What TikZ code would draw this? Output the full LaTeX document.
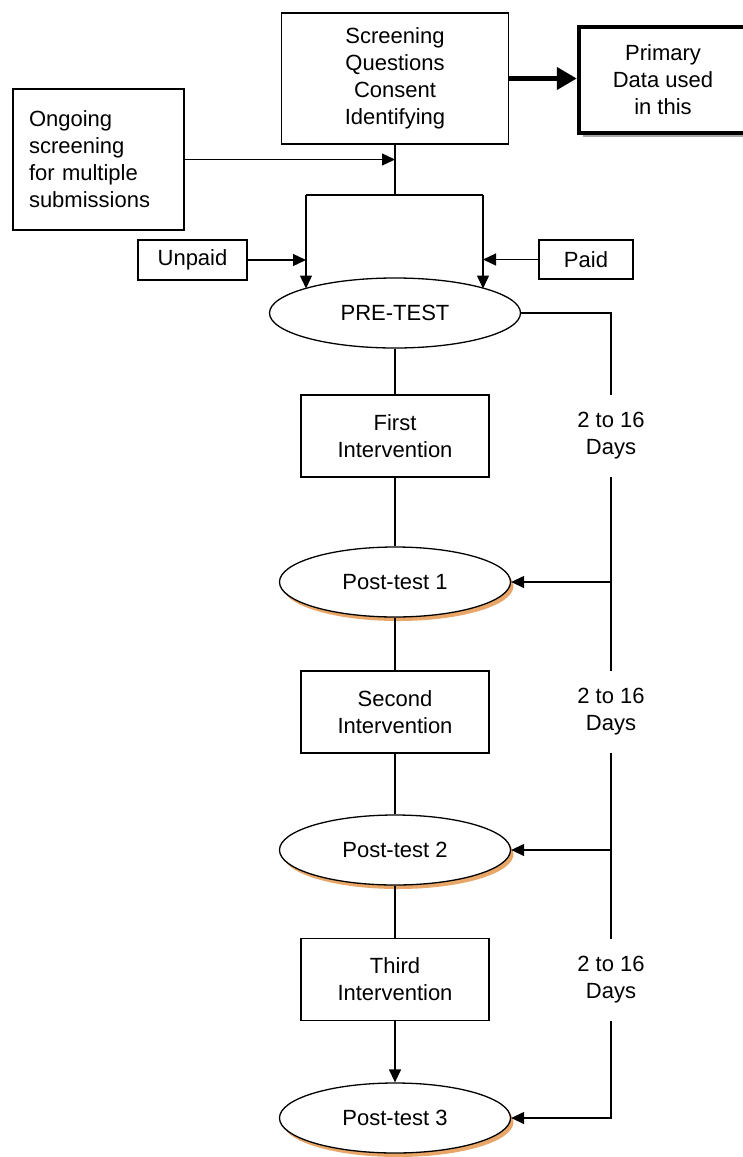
\documentclass[tikz,border=0pt]{standalone}
\usepackage{fontspec}
\setmainfont{Liberation Sans}
\usetikzlibrary{arrows.meta,shapes.geometric,shadows,positioning}
\definecolor{ptshadow}{RGB}{232,166,104}

\begin{document}
\begin{tikzpicture}[x=1pt, y=-1pt,
        every node/.style={font=\fontsize{22}{27}\selectfont, align=center, inner sep=0pt},
        box/.style={draw, line width=1.3pt, fill=white},
        interv/.style={box, minimum width=188pt, minimum height=82pt},
        test/.style={draw, ellipse, line width=1.3pt, fill=white, minimum width=251pt, minimum height=70pt},
        post/.style={test, minimum width=231pt,
                drop shadow={shadow xshift=3pt, shadow yshift=-4pt, fill=ptshadow, opacity=1}},
        days/.style={minimum height=82pt},
        link/.style={line width=1.3pt},
        arr/.style={link, -{Triangle[length=13pt,width=12pt]}}]
        \useasboundingbox (0,0) rectangle (742,1157);
        % top part
        \node[box, minimum width=227pt, minimum height=131pt] (screen) at (395,78.5)
                {Screening\\Questions\\Consent\\Identifying};
        \node[draw, line width=4.5pt, fill=white, minimum width=168pt, minimum height=106pt,
                drop shadow={shadow xshift=4pt, shadow yshift=-4pt, fill=gray!70, opacity=1}]
                (primary) at (663,80) {Primary\\Data used\\in this};
        \node[box, align=left, text width=139pt, inner xsep=16pt, minimum height=141pt] (ongoing) at (98.5,159.5)
                {Ongoing\\screening\\for multiple\\submissions};
        \node[box, minimum width=109pt, minimum height=40pt] (unpaid) at (192.5,260) {Unpaid};
        \node[box, minimum width=94pt, minimum height=39pt] (paid) at (586,259.5) {Paid};
        % main column
        \node[test] (pre) at (395,313) {PRE-TEST};
        \node[interv] (first) at (395,436) {First\\Intervention};
        \node[post] (pt1) at (395,582) {Post-test 1};
        \node[interv] (second) at (395,712) {Second\\Intervention};
        \node[post] (pt2) at (395,850) {Post-test 2};
        \node[interv] (third) at (395,979.5) {Third\\Intervention};
        \node[post] (pt3) at (395,1118) {Post-test 3};
        % time between tests
        \node[days] (days1) at (611,436) {2 to 16\\Days};
        \node[days] (days2) at (611,712) {2 to 16\\Days};
        \node[days] (days3) at (611,980) {2 to 16\\Days};

        \coordinate (split) at (395,195);
        \coordinate (splitL) at (306,195);
        \coordinate (splitR) at (483,195);
        \coordinate (preL) at (306,288.5);
        \coordinate (preR) at (483,288.5);

        \draw[line width=4.5pt, -{Triangle[length=20pt,width=22pt]}] (screen.east) -- (screen.east -| primary.west);
        \draw[link] (screen.south) -- (split);
        \draw[link] (splitL) -- (splitR);
        \draw[arr] (splitL) -- (preL);
        \draw[arr] (splitR) -- (preR);
        \draw[arr] (ongoing.east) -- (ongoing.east -| split);
        \draw[arr] (unpaid.east) -- (unpaid.east -| splitL);
        \draw[arr] (paid.west) -- (paid.west -| splitR);

        \foreach \a/\b in {pre/first, first/pt1, pt1/second, second/pt2, pt2/third}
                \draw[link] (\a.south) -- (\b.north);
        \draw[arr] (third.south) -- (pt3.north);

        \draw[link] (pre.east) -| (days1.north);
        \draw[link] (days1.south) -- (days2.north);
        \draw[link] (days2.south) -- (days3.north);
        \draw[arr] (days3.south) |- (pt3.east);
        \draw[arr] (days1.south |- pt1.east) -- (pt1.east);
        \draw[arr] (days2.south |- pt2.east) -- (pt2.east);
\end{tikzpicture}
\end{document}
